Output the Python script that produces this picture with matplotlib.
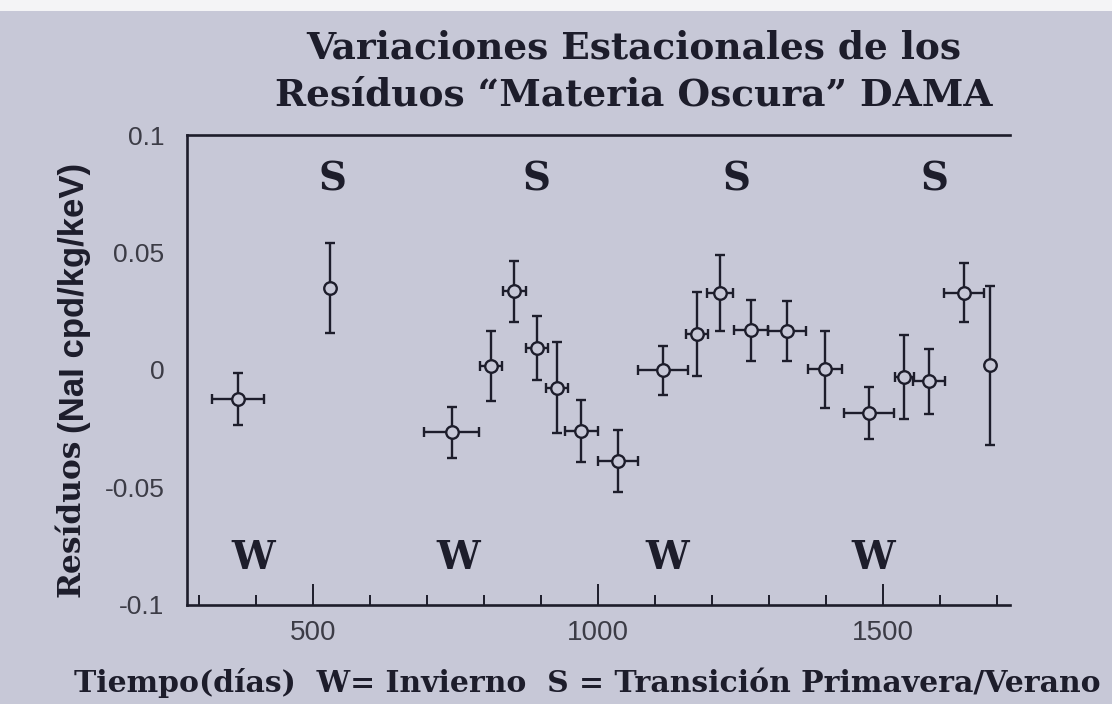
import matplotlib
matplotlib.use("Agg")
import matplotlib.pyplot as plt
from matplotlib.patches import Rectangle

# Data
days = [368, 530, 743, 812, 853, 893, 928, 970, 1035, 1113,
        1173, 1213, 1268, 1331, 1398, 1475, 1537, 1580, 1642, 1688]
resid = [-0.0124, 0.0348, -0.0265, 0.0018, 0.0335, 0.0094, -0.0075, -0.0261, -0.0387, -0.0002,
         0.0153, 0.0328, 0.0169, 0.0167, 0.0002, -0.0183, -0.0031, -0.0049, 0.0329, 0.0019]
resid_err = [0.0112, 0.0192, 0.0108, 0.0150, 0.0131, 0.0136, 0.0195, 0.0131, 0.0133, 0.0104,
             0.0178, 0.0160, 0.0129, 0.0127, 0.0163, 0.0112, 0.0179, 0.0138, 0.0125, 0.0337]
days_err = [46, 0, 48, 19, 21, 19, 19, 29, 35, 44,
            19, 23, 30, 33, 30, 44, 17, 28, 35, 0]

s_days = [533, 891, 1243, 1590]
w_days = [394, 755, 1121, 1482]
s_level = 0.081
w_level = -0.080

yticks = [-0.1, -0.05, 0, 0.05, 0.1]
ytick_labels = ["-0.1", "-0.05", "0", "0.05", "0.1"]
xticks_major = [500, 1000, 1500]
xticks_minor = [300, 400, 600, 700, 800, 900, 1100, 1200, 1300, 1400, 1600, 1700]

title = "Variaciones Estacionales de los\nResíduos \u201cMateria Oscura\u201d DAMA"
xlabel = "Tiempo(días)  W= Invierno  S = Transición Primavera/Verano"

bg = "#c7c8d7"
ink = "#1d1d2b"
grey = "#3c3c46"

fig = plt.figure(figsize=(11.12, 7.04), dpi=100, facecolor=bg)
fig.patches.append(Rectangle((0, 0.984), 1, 0.016, transform=fig.transFigure,
                             facecolor="#f4f4f6", edgecolor='none', zorder=0))
ax = fig.add_axes([0.168, 0.141, 0.740, 0.667], facecolor=bg)

ax.errorbar(days, resid, yerr=resid_err, xerr=days_err, fmt='o',
            ms=9, mfc=bg, mec=ink, mew=1.7, ecolor=ink, elinewidth=1.7,
            capsize=3.5, capthick=1.7, color=ink, zorder=3)

for d in s_days:
    ax.text(d, s_level, "S", ha='center', va='center', fontsize=28,
            fontweight='bold', family='DejaVu Serif', color=ink)
for d in w_days:
    ax.text(d, w_level, "W", ha='center', va='center', fontsize=28,
            fontweight='bold', family='DejaVu Serif', color=ink)

ax.set_xlim(278, 1722)
ax.set_ylim(-0.1, 0.1)
ax.set_yticks(yticks)
ax.set_yticklabels(ytick_labels)
ax.set_xticks(xticks_major)
ax.set_xticks(xticks_minor, minor=True)

for sp in ['top', 'left', 'bottom']:
    ax.spines[sp].set_color(ink)
    ax.spines[sp].set_linewidth(1.9)
ax.spines['right'].set_visible(False)

ax.tick_params(axis='y', length=0, pad=16, labelsize=19, labelcolor=grey)
ax.tick_params(axis='x', which='major', direction='in', length=15, width=1.4,
               color=ink, pad=11, labelsize=20, labelcolor=grey)
ax.tick_params(axis='x', which='minor', direction='in', length=7, width=1.4,
               color=ink)
for lab in ax.get_xticklabels() + ax.get_yticklabels():
    lab.set_family('Liberation Sans')

fig.text(0.570, 0.898, title, ha='center', va='center', fontsize=27,
         fontweight='bold', family='DejaVu Serif', color=ink, linespacing=1.35)

fig.text(0.528, 0.030, xlabel, ha='center', va='center', fontsize=21.5,
         fontweight='bold', family='DejaVu Serif', color=ink)

fig.text(0.064, 0.152, "Resíduos", rotation=90, ha='center', va='bottom',
         fontsize=22.5, fontweight='bold', family='DejaVu Serif', color=ink)
fig.text(0.067, 0.385, "(NaI cpd/kg/keV)", rotation=90, ha='center', va='bottom',
         fontsize=25, fontweight='bold', family='Liberation Sans', color=ink)

fig.savefig("out.png", dpi=100, facecolor=bg)
